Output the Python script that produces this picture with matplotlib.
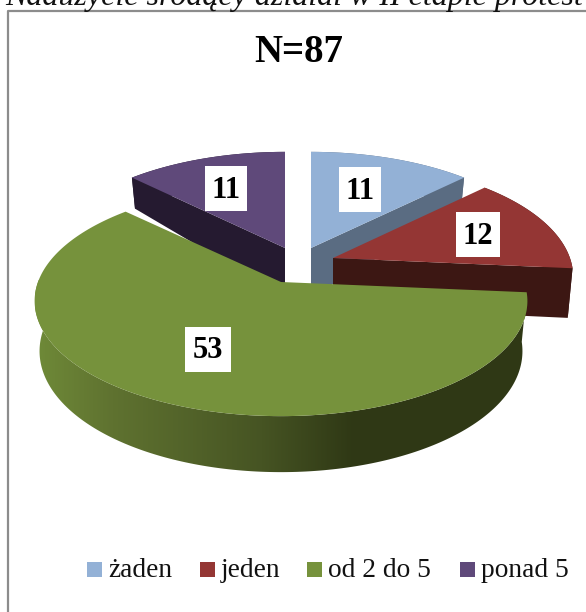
import numpy as np
import matplotlib
matplotlib.use("Agg")
import matplotlib.pyplot as plt
from matplotlib.colors import LinearSegmentedColormap
from matplotlib.patches import Polygon

categories = ["żaden", "jeden", "od 2 do 5", "ponad 5"]
values = [11, 12, 53, 11]
top_colors = ["#93b1d6", "#943634", "#76923c", "#5f497a"]
face_colors = ["#5a6c82", "#3c1713", "#2f3815", "#251a30"]

# pixel position of each slice's apex and its radius factor
apex = [(311, 248), (333, 258), (281, 282), (285, 248)]
reach = [0.985, 0.975, 1.0, 0.985]
label_pos = [(360, 189.5), (478, 234.5), (208, 349), (226, 188.5)]
label_half = [21, 22, 23, 21]
legend_x = [87, 200, 307, 460]

RX, RY, K = 243, 112, 0.165
plt.rcParams["font.family"] = ["Liberation Serif", "DejaVu Serif"]
green_wall = LinearSegmentedColormap.from_list(
    "wall", [(0, "#6f8a38"), (0.24, "#5f7230"), (0.71, "#465423"), (1, "#2f3815")])


def top_point(center, t, r=1.0):
    d = 1 + K * np.sin(t)
    return center[0] + r * RX * np.cos(t) / d, center[1] - RY * np.sin(t) / d


def bottom_point(center, t, r=1.0):
    x, y = top_point(center, t, r)
    depth = np.interp(np.sin(t), [-1, 0, 0.7, 1], [56, 49, 31, 30])
    return center[0] + (x - center[0]) * 0.98, y + depth


fig = plt.figure(figsize=(5.86, 6.12), dpi=100)
ax = fig.add_axes([0, 0, 1, 1])
ax.axis("off")

# outer frame and the line of text cut off above it
ax.plot([8, 8, 586], [612, 11, 11], color="#8c8c8c", lw=1.6)
ax.text(5, 5, "Nadużycie środący działał w II etapie protest", fontsize=23,
        va="baseline", ha="left", style="italic", color="#111111", clip_on=True)
ax.text(299, 52, "N=87", fontsize=28, fontweight="bold", ha="center", va="center")

angles = 90 - np.cumsum([0] + values) / sum(values) * 360
slices = []
for i in range(len(values)):
    slices.append((i, np.radians(angles[i]), np.radians(angles[i + 1])))

# back slices first, green last
z = 2
for i, t0, t1 in [slices[0], slices[3], slices[1], slices[2]]:
    c = apex[i]
    r = reach[i]
    ts = np.linspace(t0, t1, 240)
    xs, ys = top_point(c, ts, r)

    # outer wall, for the green slice only from its leftmost point on
    tw = ts
    if i == 2:
        tw = ts[(ts > -np.pi - np.arcsin(K))]
    xt, yt = top_point(c, tw, r)
    xb, yb = bottom_point(c, tw, r)
    wall = np.c_[np.r_[xt, xb[::-1]], np.r_[yt, yb[::-1]]]
    if i == 2:
        patch = Polygon(wall, closed=True, facecolor="none", edgecolor="none")
        ax.add_patch(patch)
        img = ax.imshow(np.linspace(0, 1, 320)[None, :], cmap=green_wall, aspect="auto",
                        extent=(35, 355, 480, 280), zorder=z)
        img.set_clip_path(patch)
        # right of the gradient the wall stays dark
        dark = ax.imshow([[1, 1]], cmap=green_wall, vmin=0, vmax=1, aspect="auto",
                         extent=(355, 540, 480, 280), zorder=z)
        dark.set_clip_path(patch)
    else:
        ax.fill(wall[:, 0], wall[:, 1], color=face_colors[i], lw=0, zorder=z)

    # cut face that looks towards the viewer
    if i == 0 or i == 1:
        edge = t1
    elif i == 3:
        edge = t0
    else:
        edge = None
    if edge is not None:
        xe, ye = top_point(c, edge, r)
        xf, yf = bottom_point(c, edge, r)
        ax.fill([c[0], xe, xf, c[0]], [c[1], ye, yf, c[1] + 49],
                color=face_colors[i], lw=0, zorder=z)

    ax.fill(np.r_[c[0], xs], np.r_[c[1], ys], color=top_colors[i], lw=0, zorder=z + 0.5)
    z += 1

for v, (x, y), hw in zip(values, label_pos, label_half):
    ax.fill([x - hw, x + hw, x + hw, x - hw], [y - 22.5, y - 22.5, y + 22.5, y + 22.5],
            color="white", lw=0, zorder=10)
    ax.text(x, y + 2, str(v), fontsize=22, fontweight="bold", ha="center", va="center", zorder=11)

for name, col, x in zip(categories, top_colors, legend_x):
    ax.fill([x, x + 15, x + 15, x], [562, 562, 577, 577], color=col, lw=0)
    ax.text(x + 21, 577, name, fontsize=19.7, ha="left", va="baseline", color="#111111")

ax.set_xlim(0, 586)
ax.set_ylim(612, 0)
fig.savefig("out.png", dpi=100)
